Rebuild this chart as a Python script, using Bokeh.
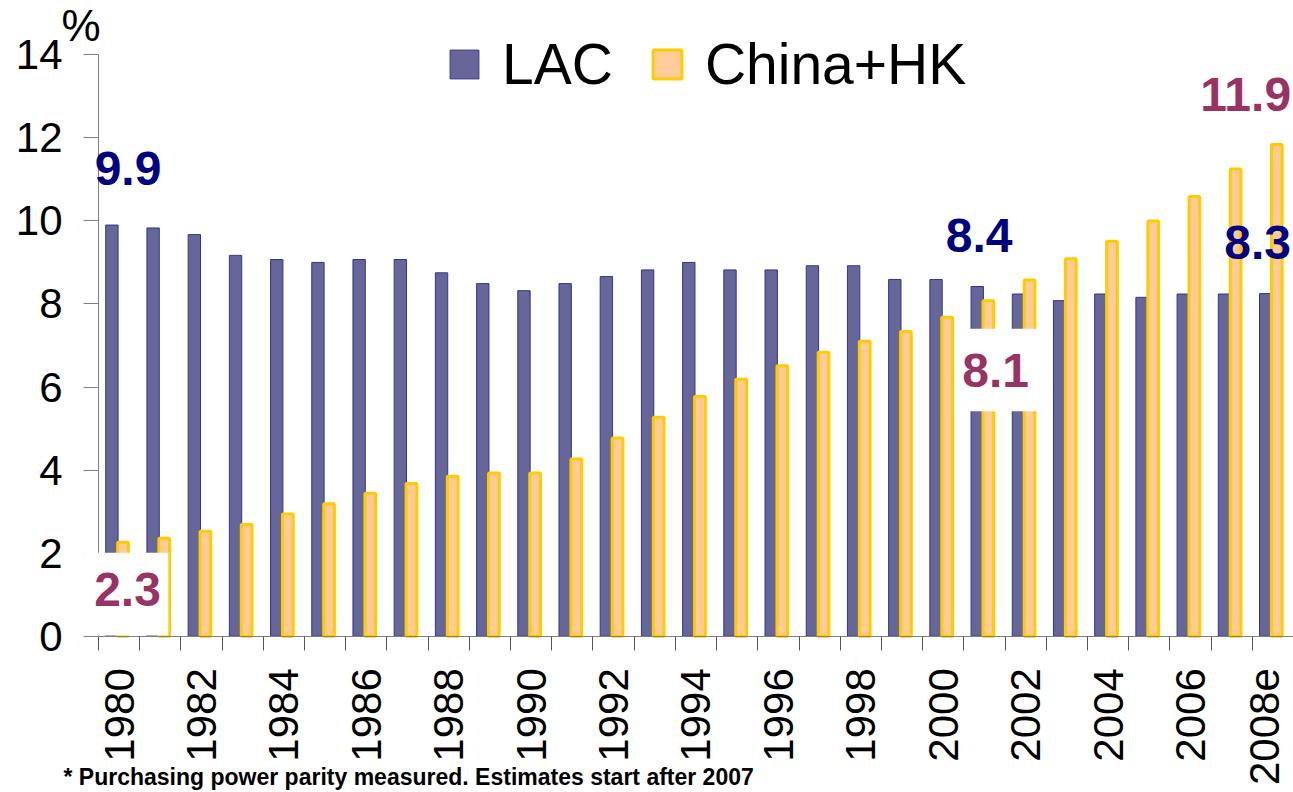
import numpy as np
from bokeh.plotting import figure
from bokeh.models import FixedTicker, Legend, LegendItem, Range1d, ColumnDataSource
from bokeh.core.properties import value
from bokeh.embed import file_html
from bokeh.resources import INLINE

# ---------------- data ----------------
years = ["1980", "1981", "1982", "1983", "1984", "1985", "1986", "1987", "1988", "1989",
         "1990", "1991", "1992", "1993", "1994", "1995", "1996", "1997", "1998", "1999",
         "2000", "2001", "2002", "2003", "2004", "2005", "2006", "2007", "2008e"]
lac = [9.9, 9.83, 9.67, 9.17, 9.07, 9.0, 9.07, 9.07, 8.75, 8.49,
       8.32, 8.49, 8.66, 8.82, 9.0, 8.82, 8.82, 8.92, 8.92, 8.59,
       8.59, 8.42, 8.24, 8.08, 8.24, 8.16, 8.24, 8.24, 8.25]
china = [2.26, 2.36, 2.53, 2.69, 2.94, 3.19, 3.44, 3.68, 3.85, 3.93,
         3.93, 4.27, 4.77, 5.27, 5.77, 6.19, 6.51, 6.84, 7.10, 7.34,
         7.68, 8.08, 8.58, 9.09, 9.51, 10.0, 10.59, 11.25, 11.84]
y_ticks = [0, 2, 4, 6, 8, 10, 12, 14]

# highlighted values
lac_label_idx = [0, 21, 28]
lac_label_txt = ["9.9", "8.4", "8.3"]
china_label_idx = [0, 21, 28]
china_label_txt = ["2.3", "8.1", "11.9"]
boxed_china = [0, 1]          # positions (in china_label lists) drawn on a white box

unit_text = "%"
footnote = "* Purchasing power parity measured. Estimates start after 2007"

FONT = "Liberation Sans"
LAC_FILL, LAC_LINE = "#666699", "#333399"
CH_FILL, CH_LINE = "#FFCC99", "#FFCC00"
AXIS_GRAY = "#808080"

n = len(years)
idx = np.arange(n)

# frame covers the whole canvas; axes are drawn at fixed locations inside it
CAT_PX = 41.2
p = figure(width=1293, height=792, output_backend="svg", toolbar_location=None,
           x_range=Range1d(-0.5 - 98 / CAT_PX, n - 0.5),
           y_range=Range1d(-3.763, 15.307),
           min_border_left=0, min_border_top=0, min_border_right=0,
           min_border_bottom=0)
p.xgrid.visible = False
p.ygrid.visible = False
p.outline_line_color = None
p.background_fill_color = "white"
p.border_fill_color = "white"

src_lac = ColumnDataSource(dict(x=idx - 0.175, top=lac))
src_ch = ColumnDataSource(dict(x=idx + 0.095, top=china))
r_lac = p.vbar(x="x", top="top", bottom=0, width=0.30, source=src_lac,
               fill_color=LAC_FILL, line_color=LAC_LINE, line_width=1)
r_ch = p.vbar(x="x", top="top", bottom=0, width=0.26, source=src_ch,
              fill_color=CH_FILL, line_color=CH_LINE, line_width=3)

# ---------------- axes ----------------
# labels every other year; the last one nudged left so it stays on the page
label_pos = [float(i) for i in range(0, n - 1, 2)] + [n - 1.2]
label_txt = [years[i] for i in range(0, n, 2)]

xa = p.xaxis[0]
xa.fixed_location = 0
xa.bounds = (-0.5, n - 0.5)
xa.ticker = FixedTicker(ticks=label_pos,
                        minor_ticks=[i - 0.5 for i in range(n + 1)])
xa.major_label_overrides = dict(zip(label_pos, label_txt))
xa.major_label_orientation = np.pi / 2
xa.major_tick_line_color = None
xa.major_tick_out = 14
xa.major_tick_in = 0
xa.major_label_standoff = 18
xa.minor_tick_line_color = "#555555"
xa.minor_tick_out = 14
xa.minor_tick_in = 0
xa.axis_line_color = AXIS_GRAY
xa.major_label_text_font = FONT
xa.major_label_text_font_size = "42px"
xa.major_label_text_color = "black"

ya = p.yaxis[0]
ya.fixed_location = -0.5
ya.bounds = (0, 14)
ya.ticker = FixedTicker(ticks=y_ticks)
ya.major_tick_out = 15
ya.major_tick_in = 0
ya.major_tick_line_color = AXIS_GRAY
ya.minor_tick_line_color = None
ya.axis_line_color = AXIS_GRAY
ya.major_label_standoff = 21
ya.major_label_text_font = FONT
ya.major_label_text_font_size = "42px"
ya.major_label_text_color = "black"

# ---------------- legend ----------------
legend = Legend(items=[LegendItem(label="LAC", renderers=[r_lac]),
                       LegendItem(label="China+HK", renderers=[r_ch])],
                location=(446, 695), orientation="horizontal",
                label_text_font=FONT, label_text_font_size="57px",
                label_text_color="black",
                glyph_width=36, glyph_height=36, label_standoff=20,
                spacing=36, padding=0, margin=0,
                border_line_color=None, background_fill_alpha=0)
p.add_layout(legend)

# ---------------- value labels ----------------
lac_dx = [0.216, -0.13, -0.37]
lac_dy = [1.36, 1.23, 1.22]
ch_dx = [0.204, 0.27, -0.66]
ch_dy = [-1.14, -1.68, 1.21]
box_dx = [-0.04, 0.05]
box_dy = [-0.105, 0.01]
box_w = [2.06, 1.97]

box_x = [china_label_idx[k] + ch_dx[k] + box_dx[j] for j, k in enumerate(boxed_china)]
box_y = [china[china_label_idx[k]] + ch_dy[k] + box_dy[j] for j, k in enumerate(boxed_china)]
p.rect(x=box_x, y=box_y, width=box_w, height=1.99, fill_color="white",
       line_color=None, level="overlay")

p.text(x=[lac_label_idx[k] + lac_dx[k] for k in range(3)],
       y=[lac[lac_label_idx[k]] + lac_dy[k] for k in range(3)],
       text=lac_label_txt, text_color="#000080", text_font=value(FONT),
       text_font_style="bold", text_font_size="48px", text_align="center",
       text_baseline="middle", level="overlay")
p.text(x=[china_label_idx[k] + ch_dx[k] for k in range(3)],
       y=[china[china_label_idx[k]] + ch_dy[k] for k in range(3)],
       text=china_label_txt, text_color="#993366", text_font=value(FONT),
       text_font_style="bold", text_font_size="48px", text_align="center",
       text_baseline="middle", level="overlay")

# unit label above the y axis, and the footnote at the bottom
p.text(x=[-0.5 - 37 / CAT_PX], y=[y_ticks[-1] + 0.70], text=[unit_text],
       text_align="left", text_baseline="middle", text_font=value(FONT),
       text_font_size="44px", text_color="black", level="overlay")
p.text(x=[-0.5 - 35 / CAT_PX], y=[-3.70], text=[footnote],
       text_align="left", text_baseline="bottom", text_font=value(FONT),
       text_font_style="bold", text_font_size="23px", text_color="black",
       level="overlay")

open("out.html", "w").write(file_html(p, INLINE))
